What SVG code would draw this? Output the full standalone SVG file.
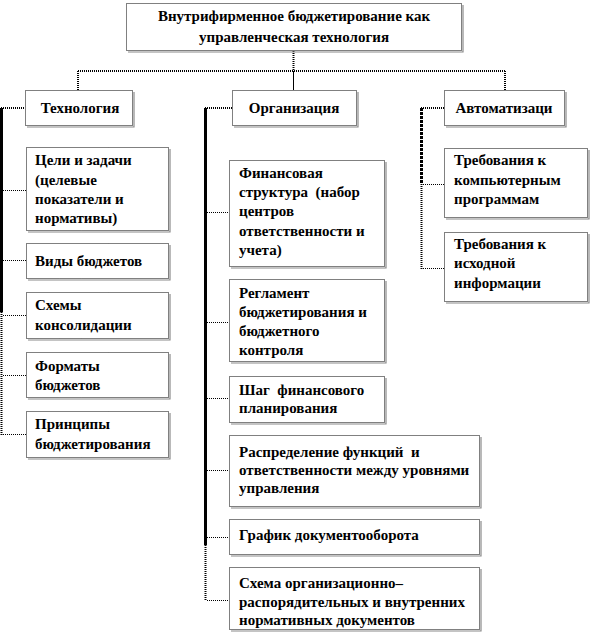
<svg xmlns="http://www.w3.org/2000/svg" width="592" height="642" viewBox="0 0 592 642">
<style>
.b{fill:#fff;stroke:#000;stroke-width:1;stroke-dasharray:1 1}
.s{fill:none;stroke:#8a8a8a;stroke-width:1.2}
text{font-family:'Liberation Serif','Times New Roman','DejaVu Serif',serif;font-weight:700;font-size:15px;fill:#000}
.c{text-anchor:middle}
.d1{fill:none;stroke:#000;stroke-width:1;stroke-dasharray:1 1}
.d2{fill:none;stroke:#000;stroke-width:2;stroke-dasharray:1 1}
.sol{fill:none;stroke:#000;stroke-width:3}
.th{fill:none;stroke:#000;stroke-width:1}
</style>
<rect width="592" height="642" fill="#fff"/>
<g id="connectors">
<path class="d2" d="M293.5,51V71"/>
<path class="th" d="M293.5,71V90"/>
<path class="d2" d="M78,71H506M78,71V90M505,71V90"/>
<path class="d2" d="M1,108H25"/>
<path class="sol" d="M1.5,108V312"/>
<path class="d2" d="M1.5,312V435"/>
<path class="d1" d="M3,190.5H26M3,260.5H26M3,315.5H26M3,375.5H26M3,434.5H26"/>
<path class="d2" d="M205,108H232"/>
<path class="sol" d="M205.5,108V545"/>
<path class="d2" d="M205.5,545V601"/>
<path class="d1" d="M207,212.5H229M207,322.5H229M207,398.5H229M207,470.5H229M207,537.5H229M207,600.5H229"/>
<path class="d2" d="M421,108H444"/>
<path fill="none" stroke="#000" stroke-width="3" stroke-dasharray="3 1" d="M421.5,108V184"/>
<path class="d2" d="M421.5,184V269"/>
<path class="d1" d="M423,184.5H444M423,268.5H444"/>
</g>
<g id="root">
<rect class="b" x="126.5" y="3.5" width="335" height="47"/>
<path class="s" d="M463,5V52H128"/>
<text class="c" x="294" y="21">Внутрифирменное бюджетирование как</text>
<text class="c" x="294" y="42">управленческая технология</text>
</g>
<g id="tech">
<rect class="b" x="25.5" y="90.5" width="107" height="35"/>
<path class="s" d="M134,92V127H27"/>
<text class="c" x="80" y="113">Технология</text>
</g>
<g id="org">
<rect class="b" x="232.5" y="90.5" width="124" height="35"/>
<path class="s" d="M358,92V127H234"/>
<text class="c" x="294" y="113">Организация</text>
</g>
<g id="auto">
<rect class="b" x="444.5" y="90.5" width="120" height="35"/>
<path class="s" d="M566,92V127H446"/>
<text class="c" x="504" y="113">Автоматизаци</text>
</g>
<g id="t1">
<rect class="b" x="26.5" y="147.5" width="142" height="83"/>
<path class="s" d="M170,149V232H28"/>
<text x="35" y="165">Цели и задачи</text>
<text x="35" y="184.5">(целевые</text>
<text x="35" y="204">показатели и</text>
<text x="35" y="223">нормативы)</text>
</g>
<g id="t2">
<rect class="b" x="26.5" y="243.5" width="142" height="35"/>
<path class="s" d="M170,245V280H28"/>
<text x="35" y="266">Виды бюджетов</text>
</g>
<g id="t3">
<rect class="b" x="26.5" y="292.5" width="142" height="46"/>
<path class="s" d="M170,294V340H28"/>
<text x="35" y="310">Схемы</text>
<text x="35" y="330">консолидации</text>
</g>
<g id="t4">
<rect class="b" x="26.5" y="352.5" width="142" height="45"/>
<path class="s" d="M170,354V399H28"/>
<text x="35" y="371">Форматы</text>
<text x="35" y="390">бюджетов</text>
</g>
<g id="t5">
<rect class="b" x="26.5" y="411.5" width="142" height="46"/>
<path class="s" d="M170,413V459H28"/>
<text x="35" y="429">Принципы</text>
<text x="35" y="449">бюджетирования</text>
</g>
<g id="o1">
<rect class="b" x="229.5" y="160.5" width="155" height="106"/>
<path class="s" d="M386,162V268H231"/>
<text x="239" y="178">Финансовая</text>
<text x="239" y="197" xml:space="preserve">структура  (набор</text>
<text x="239" y="216">центров</text>
<text x="239" y="236">ответственности и</text>
<text x="239" y="255">учета)</text>
</g>
<g id="o2">
<rect class="b" x="229.5" y="279.5" width="155" height="82"/>
<path class="s" d="M386,281V363H231"/>
<text x="239" y="298">Регламент</text>
<text x="239" y="317">бюджетирования и</text>
<text x="239" y="336">бюджетного</text>
<text x="239" y="355">контроля</text>
</g>
<g id="o3">
<rect class="b" x="229.5" y="376.5" width="155" height="46"/>
<path class="s" d="M386,378V424H231"/>
<text x="239" y="395" xml:space="preserve">Шаг  финансового</text>
<text x="239" y="413">планирования</text>
</g>
<g id="o4">
<rect class="b" x="229.5" y="435.5" width="250" height="71"/>
<path class="s" d="M481,437V508H231"/>
<text x="239" y="457" xml:space="preserve">Распределение функций  и</text>
<text x="239" y="475">ответственности между уровнями</text>
<text x="239" y="493">управления</text>
</g>
<g id="o5">
<rect class="b" x="229.5" y="519.5" width="250" height="35"/>
<path class="s" d="M481,521V556H231"/>
<text x="239" y="540">График документооборота</text>
</g>
<g id="o6">
<rect class="b" x="229.5" y="567.5" width="250" height="62"/>
<path class="s" d="M481,569V631H231"/>
<text x="239" y="588">Схема организационно–</text>
<text x="239" y="607">распорядительных и внутренних</text>
<text x="239" y="625">нормативных документов</text>
</g>
<g id="a1">
<rect class="b" x="444.5" y="148.5" width="143" height="69"/>
<path class="s" d="M589,150V219H446"/>
<text x="454" y="165">Требования к</text>
<text x="454" y="185">компьютерным</text>
<text x="454" y="204">программам</text>
</g>
<g id="a2">
<rect class="b" x="444.5" y="232.5" width="143" height="69"/>
<path class="s" d="M589,234V303H446"/>
<text x="454" y="249">Требования к</text>
<text x="454" y="268">исходной</text>
<text x="454" y="288">информации</text>
</g>
</svg>
